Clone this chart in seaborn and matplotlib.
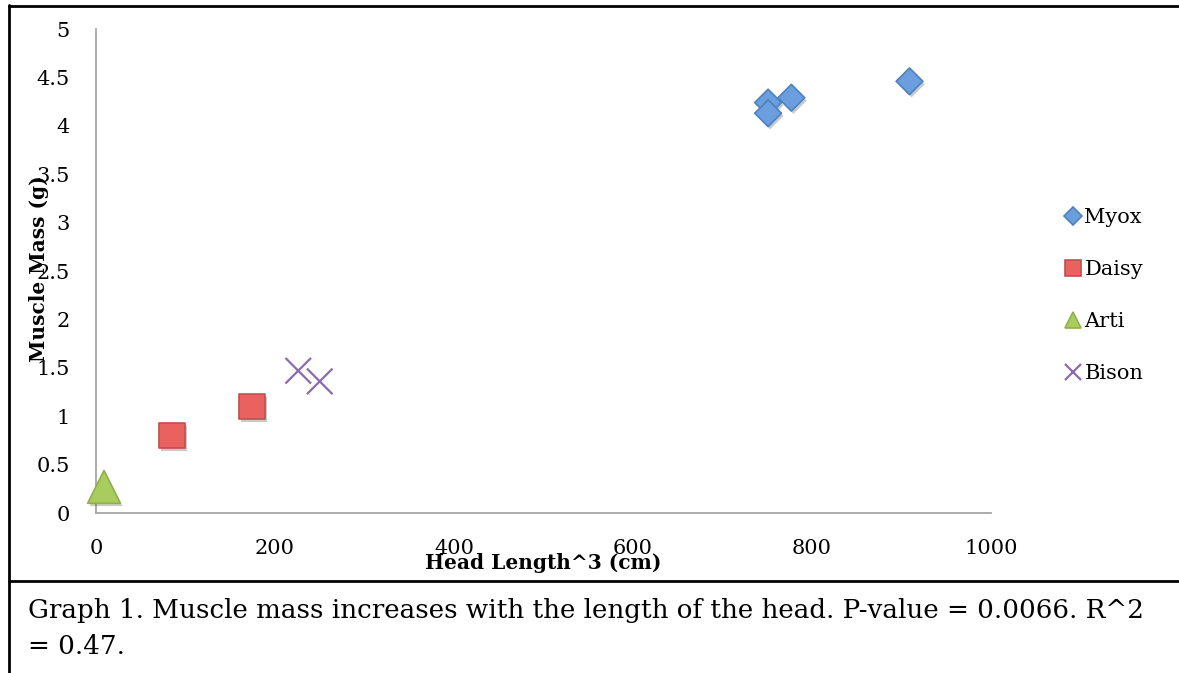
import pandas as pd
import numpy as np
import matplotlib
matplotlib.use('Agg')
import matplotlib.pyplot as plt
import seaborn as sns
from matplotlib.lines import Line2D
import matplotlib.patheffects as pe

# =====================
# DATA
# =====================
species = ['Myox', 'Daisy', 'Arti', 'Bison']
myox_x = [751, 751, 777, 909]
myox_y = [4.24, 4.13, 4.29, 4.46]
daisy_x = [85, 174]
daisy_y = [0.80, 1.10]
arti_x = [9]
arti_y = [0.27]
bison_x = [226, 250]
bison_y = [1.47, 1.36]

df = pd.DataFrame({
    'HeadLength3': myox_x + daisy_x + arti_x + bison_x,
    'MuscleMass': myox_y + daisy_y + arti_y + bison_y,
    'Species': ['Myox'] * len(myox_x) + ['Daisy'] * len(daisy_x)
               + ['Arti'] * len(arti_x) + ['Bison'] * len(bison_x),
})

x_ticks = [0, 200, 400, 600, 800, 1000]
y_ticks = [0, 0.5, 1, 1.5, 2, 2.5, 3, 3.5, 4, 4.5, 5]
y_ticklabels = ['0', '0.5', '1', '1.5', '2', '2.5', '3', '3.5', '4', '4.5', '5']

caption = ('Graph 1. Muscle mass increases with the length of the head. P-value = 0.0066. R^2\n'
           '= 0.47.')

# =====================
# STYLE
# =====================
sns.set_style('white')
plt.rcParams['font.family'] = ['DejaVu Serif']
plt.rcParams['text.color'] = 'black'
plt.rcParams['axes.labelcolor'] = 'black'

styles = {
    'Myox':  dict(marker='D', face='#6a9ede', edge='#4f81bd', s=185),
    'Daisy': dict(marker='s', face='#e9625f', edge='#c0504d', s=340),
    'Arti':  dict(marker='^', face='#a9cc5e', edge='#8fb04a', s=560),
    'Bison': dict(marker='x', face='#8a6bb0', edge='#8a6bb0', s=340),
}

fig = plt.figure(figsize=(11.79, 6.73), dpi=100, facecolor='white')
ax = fig.add_axes([0.0814, 0.2377, 0.7591, 0.7192])

handles = []
for sp in species:
    st = styles[sp]
    sub = df[df['Species'] == sp]
    if st['marker'] == 'x':
        sns.scatterplot(data=sub, x='HeadLength3', y='MuscleMass', marker='x',
                        color=st['face'], s=st['s'], linewidth=1.6, ax=ax,
                        legend=False, clip_on=False, zorder=3)
    else:
        sns.scatterplot(data=sub, x='HeadLength3', y='MuscleMass', marker=st['marker'],
                        color=st['face'], edgecolor=st['edge'], s=st['s'], linewidth=1.2,
                        ax=ax, legend=False, clip_on=False, zorder=3)
    coll = ax.collections[-1]
    coll.set_path_effects([pe.SimplePatchShadow(offset=(1.5, -2), alpha=0.25), pe.Normal()])
    ms = {'D': 9, 's': 11, '^': 12, 'x': 12}[st['marker']]
    handles.append(Line2D([], [], linestyle='none', marker=st['marker'], markersize=ms,
                          markerfacecolor=st['face'], markeredgecolor=st['edge'],
                          markeredgewidth=1.2 if st['marker'] != 'x' else 1.6, label=sp))

ax.set_xlim(0, 1000)
ax.set_ylim(0, 5)
ax.set_xticks(x_ticks)
ax.set_xticklabels([str(v) for v in x_ticks])
ax.set_yticks(y_ticks)
ax.set_yticklabels(y_ticklabels)

for side in ['top', 'right']:
    ax.spines[side].set_visible(False)
for side in ['left', 'bottom']:
    ax.spines[side].set_color('#a6a6a6')
    ax.spines[side].set_linewidth(1.3)
ax.tick_params(axis='both', direction='out', color='#a6a6a6', width=1.3,
               labelsize=15, labelcolor='black')
ax.tick_params(axis='y', length=6, pad=13)
ax.tick_params(axis='x', length=5, pad=14)
ax.grid(False)

ax.set_xlabel('Head Length^3 (cm)', fontsize=14.5, fontweight='bold', va='center', color='black')
ax.xaxis.set_label_coords(0.5, -0.103)
ax.set_ylabel('Muscle Mass (g)', fontsize=14.5, fontweight='bold', va='center', ha='center',
              color='black')
ax.yaxis.set_label_coords(-0.064, 0.505)

leg = ax.legend(handles=handles, loc='center left', bbox_to_anchor=(0.895, 0.561),
                bbox_transform=fig.transFigure, frameon=False, fontsize=15,
                handlelength=0.7, handletextpad=0.2, labelspacing=1.58, borderpad=0)
for t in leg.get_texts():
    t.set_color('black')

# =====================
# FRAME + CAPTION
# =====================
fig.add_artist(Line2D([8.5 / 1179, 8.5 / 1179], [0, 1 - 5 / 673], transform=fig.transFigure,
                      color='black', linewidth=2))
fig.add_artist(Line2D([8.5 / 1179, 1], [1 - 5.5 / 673, 1 - 5.5 / 673], transform=fig.transFigure,
                      color='black', linewidth=2))
fig.add_artist(Line2D([8.5 / 1179, 1], [1 - 581 / 673, 1 - 581 / 673], transform=fig.transFigure,
                      color='black', linewidth=2))

fig.text(28 / 1179, 1 - 598 / 673, caption, fontsize=18.8, color='black',
         ha='left', va='top', linespacing=1.55)

plt.savefig('out.png', dpi=100, facecolor=fig.get_facecolor())
